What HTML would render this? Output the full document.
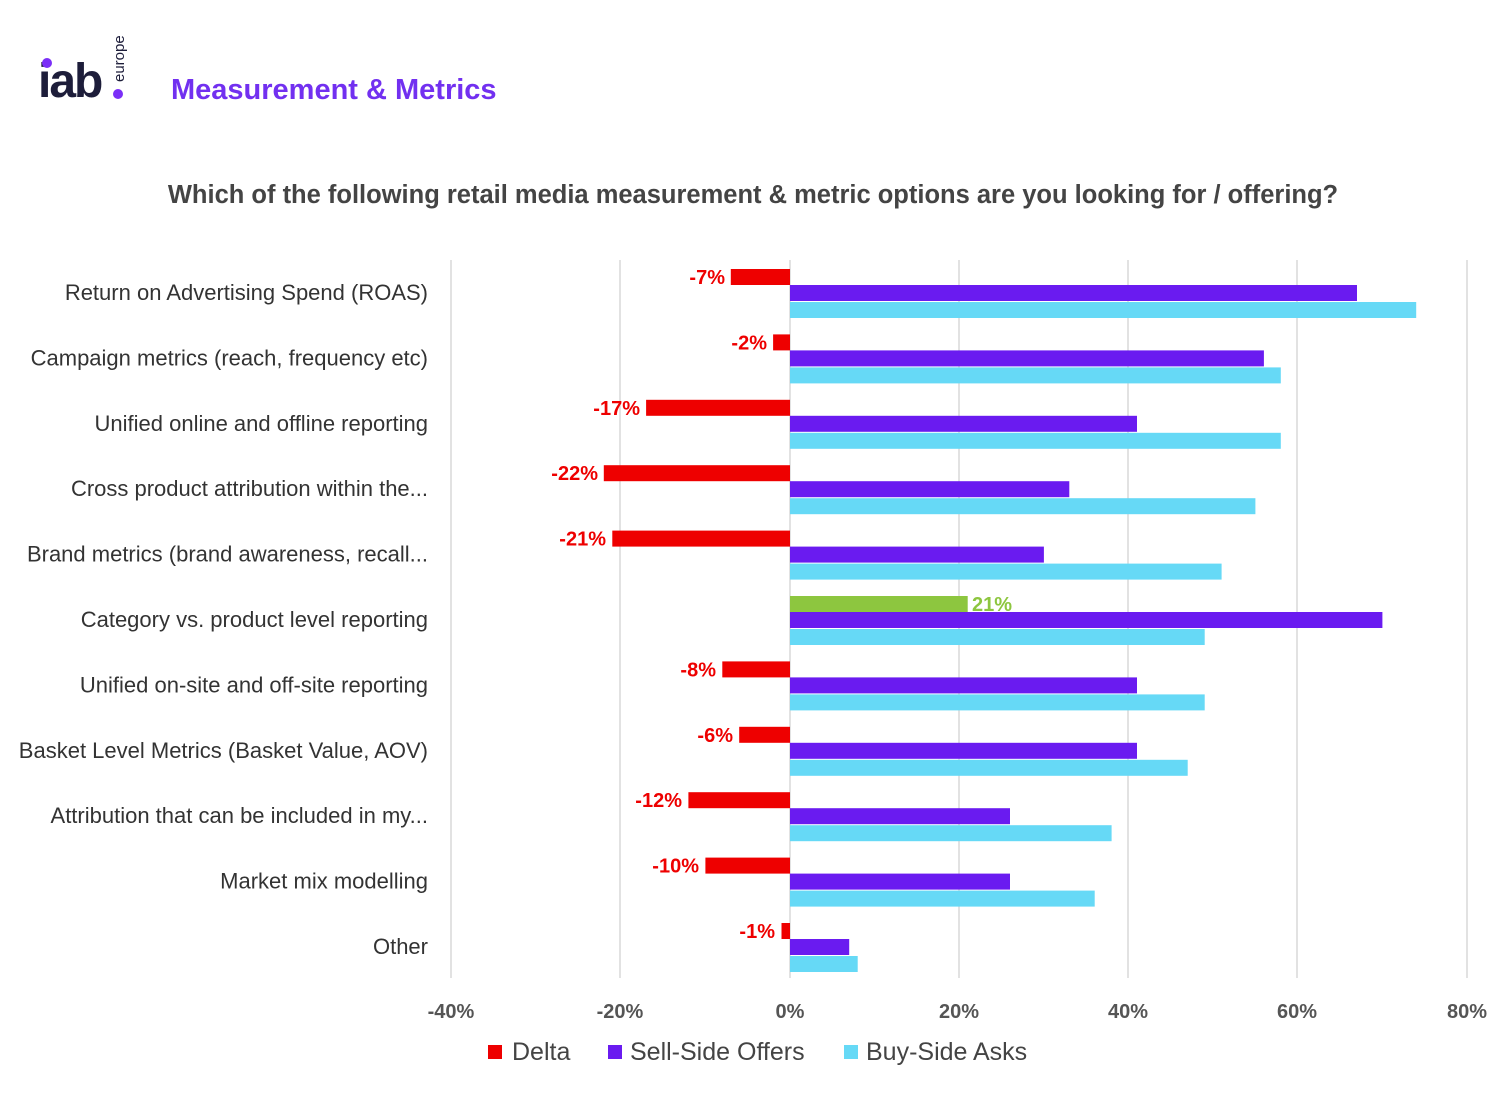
<!DOCTYPE html>
<html><head><meta charset="utf-8"><style>
html,body{margin:0;padding:0;background:#fff;}
svg{display:block;font-family:"Liberation Sans",sans-serif;}
</style></head><body>
<svg width="1500" height="1116" viewBox="0 0 1500 1116" xmlns="http://www.w3.org/2000/svg">
<rect width="1500" height="1116" fill="#fff"/>
<text x="38" y="97" font-size="48" font-weight="bold" fill="#1d1d3a" letter-spacing="-2">iab</text>
<circle cx="47" cy="63" r="5" fill="#7b2ff7"/>
<circle cx="118" cy="94" r="5" fill="#7b2ff7"/>
<text transform="translate(124,82) rotate(-90)" font-size="15" fill="#1d1d3a">europe</text>
<text x="171" y="99" font-size="29" font-weight="bold" fill="#7230f0">Measurement &amp; Metrics</text>
<text x="753" y="203" font-size="25.5" font-weight="bold" fill="#444" text-anchor="middle">Which of the following retail media measurement &amp; metric options are you looking for / offering?</text>
<g stroke="#d9d9d9" stroke-width="1.5">
<line x1="451" y1="260" x2="451" y2="978"/><line x1="620" y1="260" x2="620" y2="978"/>
<line x1="790" y1="260" x2="790" y2="978"/><line x1="959" y1="260" x2="959" y2="978"/>
<line x1="1128" y1="260" x2="1128" y2="978"/><line x1="1297" y1="260" x2="1297" y2="978"/>
<line x1="1467" y1="260" x2="1467" y2="978"/>
</g>
<g font-size="20" font-weight="bold" fill="#555" text-anchor="middle">
<text x="451" y="1018">-40%</text><text x="620" y="1018">-20%</text><text x="790" y="1018">0%</text>
<text x="959" y="1018">20%</text><text x="1128" y="1018">40%</text><text x="1297" y="1018">60%</text><text x="1467" y="1018">80%</text>
</g>
<g font-size="22" fill="#333" text-anchor="end">
<text x="428" y="300">Return on Advertising Spend (ROAS)</text>
<text x="428" y="365.4">Campaign metrics (reach, frequency etc)</text>
<text x="428" y="430.8">Unified online and offline reporting</text>
<text x="428" y="496.2">Cross product attribution within the...</text>
<text x="428" y="561.6">Brand metrics (brand awareness, recall...</text>
<text x="428" y="627">Category vs. product level reporting</text>
<text x="428" y="692.4">Unified on-site and off-site reporting</text>
<text x="428" y="757.8">Basket Level Metrics (Basket Value, AOV)</text>
<text x="428" y="823.2">Attribution that can be included in my...</text>
<text x="428" y="888.6">Market mix modelling</text>
<text x="428" y="954">Other</text>
</g>
<g fill="#ee0000">
<rect x="730.8" y="269" width="59.2" height="16"/>
<rect x="773.1" y="334.4" width="16.9" height="16"/>
<rect x="646.1" y="399.8" width="143.9" height="16"/>
<rect x="603.8" y="465.2" width="186.2" height="16"/>
<rect x="612.3" y="530.6" width="177.7" height="16"/>
<rect x="722.3" y="661.4" width="67.7" height="16"/>
<rect x="739.2" y="726.8" width="50.8" height="16"/>
<rect x="688.4" y="792.2" width="101.6" height="16"/>
<rect x="705.4" y="857.6" width="84.6" height="16"/>
<rect x="781.5" y="923" width="8.5" height="16"/>
</g>
<rect x="790" y="596" width="177.7" height="16" fill="#8dc63f"/>
<g font-size="20" font-weight="bold" fill="#ee0000" text-anchor="end">
<text x="725" y="284">-7%</text>
<text x="767" y="349.4">-2%</text>
<text x="640" y="414.8">-17%</text>
<text x="598" y="480.2">-22%</text>
<text x="606" y="545.6">-21%</text>
<text x="716" y="676.4">-8%</text>
<text x="733" y="741.8">-6%</text>
<text x="682" y="807.2">-12%</text>
<text x="699" y="872.6">-10%</text>
<text x="775" y="938">-1%</text>
</g>
<text x="972" y="611" font-size="20" font-weight="bold" fill="#8dc63f">21%</text>
<g fill="#6a1bf0">
<rect x="790" y="285" width="567" height="16"/>
<rect x="790" y="350.4" width="473.9" height="16"/>
<rect x="790" y="415.8" width="347" height="16"/>
<rect x="790" y="481.2" width="279.3" height="16"/>
<rect x="790" y="546.6" width="253.9" height="16"/>
<rect x="790" y="612" width="592.4" height="16"/>
<rect x="790" y="677.4" width="347" height="16"/>
<rect x="790" y="742.8" width="347" height="16"/>
<rect x="790" y="808.2" width="220" height="16"/>
<rect x="790" y="873.6" width="220" height="16"/>
<rect x="790" y="939" width="59.2" height="16"/>
</g>
<g fill="#66d9f6">
<rect x="790" y="302" width="626.2" height="16"/>
<rect x="790" y="367.4" width="490.8" height="16"/>
<rect x="790" y="432.8" width="490.8" height="16"/>
<rect x="790" y="498.2" width="465.4" height="16"/>
<rect x="790" y="563.6" width="431.6" height="16"/>
<rect x="790" y="629" width="414.7" height="16"/>
<rect x="790" y="694.4" width="414.7" height="16"/>
<rect x="790" y="759.8" width="397.7" height="16"/>
<rect x="790" y="825.2" width="321.6" height="16"/>
<rect x="790" y="890.6" width="304.7" height="16"/>
<rect x="790" y="956" width="67.7" height="16"/>
</g>
<g font-size="25" fill="#444">
<rect x="488" y="1045" width="14" height="14" fill="#ee0000"/><text x="512" y="1060">Delta</text>
<rect x="608" y="1045" width="14" height="14" fill="#6a1bf0"/><text x="630" y="1060">Sell-Side Offers</text>
<rect x="844" y="1045" width="14" height="14" fill="#66d9f6"/><text x="866" y="1060">Buy-Side Asks</text>
</g>
</svg>
</body></html>
